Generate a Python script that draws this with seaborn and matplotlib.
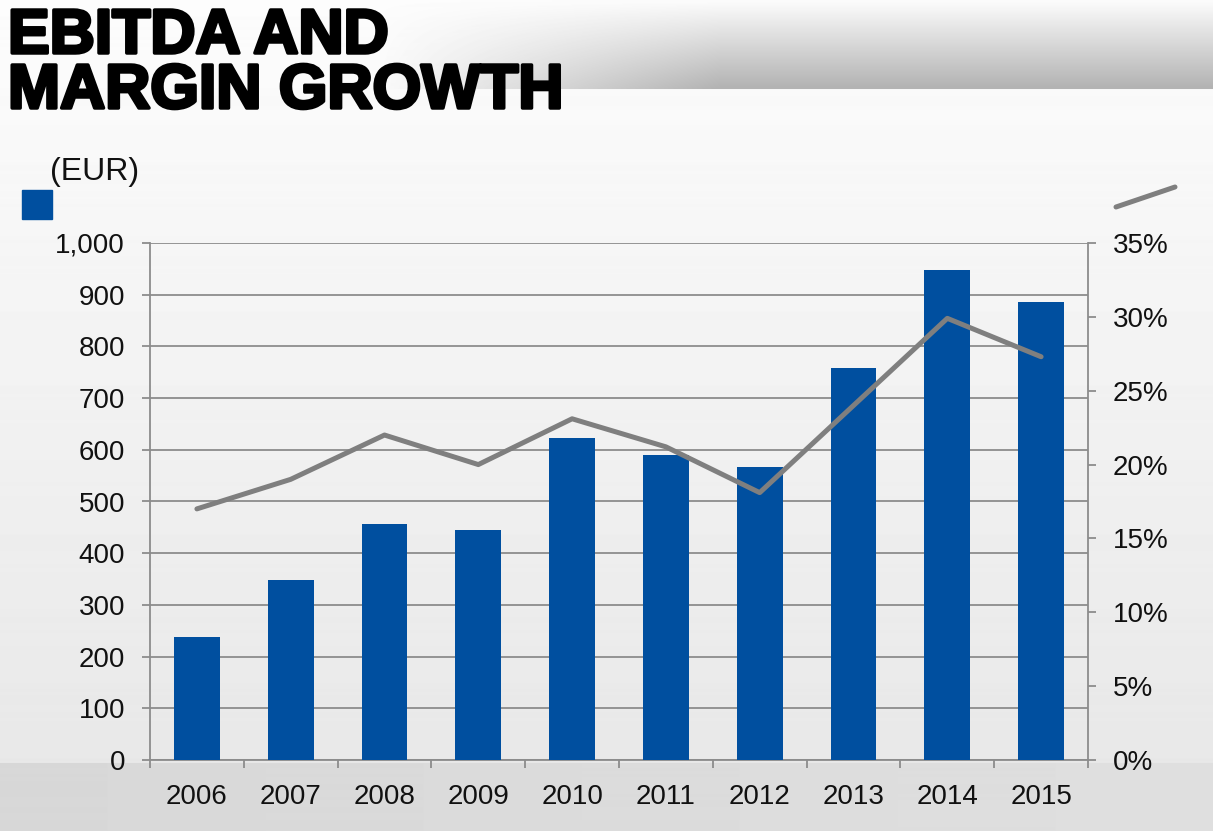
import numpy as np
import matplotlib
matplotlib.use('Agg')
import matplotlib.pyplot as plt
import seaborn as sns
from matplotlib import patheffects
from matplotlib.patches import Rectangle
from matplotlib.lines import Line2D
from matplotlib.ticker import FuncFormatter

# values
years = ['2006', '2007', '2008', '2009', '2010', '2011', '2012', '2013', '2014', '2015']
ebitda = [238, 348, 456, 445, 623, 590, 567, 758, 948, 886]
margin_pct = [17.0, 19.0, 22.0, 20.0, 23.1, 21.2, 18.1, 24.0, 29.9, 27.3]

BLUE = '#004f9f'
LINE_GREY = '#7f7f7f'
GRID_GREY = '#8c8c8c'
TXT = '#111111'

sns.set_style('white')
plt.rcParams['font.family'] = ['Liberation Sans', 'DejaVu Sans']
plt.rcParams['text.color'] = TXT
plt.rcParams['xtick.color'] = TXT
plt.rcParams['ytick.color'] = TXT

W, H = 1213, 838
fig = plt.figure(figsize=(W / 100, H / 100), dpi=100)

# slide background: soft grey gradient, darker band under the axis, grey header bar
rows = np.arange(H)[:, None]
cols = np.arange(W)[None, :]
img = np.interp(rows, [0, 140, 760], [0.99, 0.975, 0.91]) * np.ones((1, W))
band = (rows >= 763) & (rows <= 830)
img = np.where(band, 0.845 + 0.03 * cols / W, img)
img = np.where(rows > 830, 1.0, img)
head = np.interp(rows, [0, 88], [0.99, 0.70]) * np.ones((1, W))
alpha = np.interp(cols, [380, 720], [0, 1]) * (rows <= 89)
img = img * (1 - alpha) + head * alpha
bg = fig.add_axes([0, 0, 1, 1], zorder=-10)
bg.imshow(img, cmap='gray', vmin=0, vmax=1, extent=[0, 1, 0, 1], aspect='auto')
bg.axis('off')

ax = fig.add_axes([150 / W, 78 / H, 938 / W, 517 / H])
ax.patch.set_alpha(0)
sns.barplot(x=years, y=ebitda, color=BLUE, saturation=1, width=0.49, linewidth=0, ax=ax, zorder=3)
ax.set_ylim(0, 1000)
ax.set_yticks(range(0, 1001, 100))
ax.yaxis.set_major_formatter(FuncFormatter(lambda v, p: f'{int(v):,}'))
ax.grid(axis='y', color=GRID_GREY, lw=1.3)
ax.grid(axis='x', visible=False)
ax.set_axisbelow(True)
ax.set_xlabel('')
ax.set_ylabel('')

ax2 = ax.twinx()
sns.lineplot(x=np.arange(len(years)), y=margin_pct, color=LINE_GREY, lw=3.6, ax=ax2)
ax2.set_ylim(0, 35)
ax2.set_yticks(range(0, 36, 5))
ax2.yaxis.set_major_formatter(FuncFormatter(lambda v, p: f'{int(v)}%'))
ax2.set_ylabel('')
ax.set_xlim(-0.5, len(years) - 0.5)

for a in (ax, ax2):
    for s in a.spines.values():
        s.set_color(GRID_GREY)
        s.set_linewidth(1.3)
    a.spines['top'].set_visible(False)
ax.spines['right'].set_visible(False)
ax2.spines['left'].set_visible(False)
ax2.spines['bottom'].set_visible(False)

ax.tick_params(axis='y', left=True, length=6, width=1.3, color=GRID_GREY, labelcolor=TXT, pad=12, labelsize=20)
ax2.tick_params(axis='y', right=True, length=6, width=1.3, color=GRID_GREY, labelcolor=TXT, pad=12, labelsize=20)
ax.tick_params(axis='x', which='major', bottom=False, length=0, pad=17, labelcolor=TXT, labelsize=20)
ax.set_xticks(np.arange(-0.5, len(years), 1), minor=True)
ax.tick_params(axis='x', which='minor', bottom=True, length=6, width=1.3, color=GRID_GREY)

# title
stroke = [patheffects.withStroke(linewidth=2.5, foreground='black')]
fig.text(8 / W, 1 - 53 / H, 'EBITDA AND', fontsize=45, weight='bold', color='black',
         va='baseline', path_effects=stroke)
fig.text(8 / W, 1 - 108 / H, 'MARGIN GROWTH', fontsize=45, weight='bold', color='black',
         va='baseline', path_effects=stroke)

# legend keys (no labels in the original)
fig.text(50 / W, 1 - 180 / H, '(EUR)', fontsize=23, va='baseline')
fig.add_artist(Rectangle((22 / W, 1 - 219 / H), 30 / W, 29 / H, transform=fig.transFigure, color=BLUE))
fig.add_artist(Line2D([1116 / W, 1175 / W], [1 - 207 / H, 1 - 187 / H], transform=fig.transFigure,
                      color=LINE_GREY, lw=3.6))

fig.savefig('out.png', dpi=100)
